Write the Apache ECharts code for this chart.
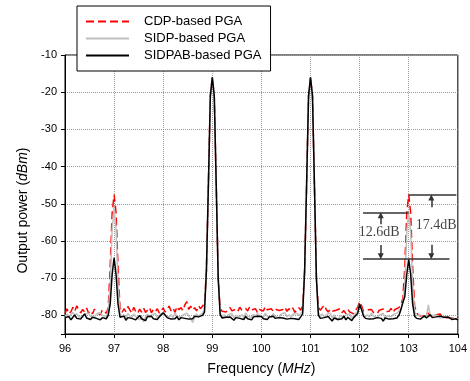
<!DOCTYPE html>
<html><head><meta charset="utf-8">
<script src="https://cdn.jsdelivr.net/npm/echarts@6/dist/echarts.min.js"></script>
<style>html,body{margin:0;padding:0;background:#fff}#c{width:470px;height:381px}</style>
</head><body><div id="c"></div>
<script>
// Frequency grid (MHz): start and step of the sampled spectrum
const freqStart = 96, freqStep = 0.04, pointCount = 201;
const xTicks = [96, 97, 98, 99, 100, 101, 102, 103, 104];
const yTicks = [-80, -70, -60, -50, -40, -30, -20, -10];

// CDP-based PGA (red dashed)
const cdp = [
 -79.5,-78.2,-79.6,-79.0,-77.8,-78.9,-77.4,-78.6,-79.3,-78.4,-79.1,-78.0,-79.4,-78.7,-79.6,-78.3,-79.2,-78.9,-79.8,-78.5,-79.0,-79.4,-78.0,-67,-52.5,
 -47.5,-52.5,-67,-78,-79.3,-78.2,-79.0,-77.6,-78.5,-79.4,-77.8,-78.9,-79.5,-78.3,-79.1,-78.0,-79.2,-78.6,-77.9,-79.3,-78.4,-79.0,-78.2,-79.4,-78.7,
 -78.0,-79.1,-78.3,-77.5,-78.8,-78.0,-79.2,-77.6,-78.5,-77.9,-78.7,-77.2,-76.3,-78.4,-77.5,-78.6,-77.9,-78.8,-77.4,-78.2,-77.8,-76.8,-68,-45,-21,
 -16,-21,-45,-70,-78.2,-78.9,-78.4,-79.1,-78.6,-77.9,-78.8,-79.2,-78.3,-78.9,-77.8,-78.6,-79.0,-78.1,-78.8,-77.7,-78.5,-78.9,-78.2,-79.3,-78.4,
 -78.0,-78.8,-77.6,-78.5,-79.0,-78.2,-78.9,-78.3,-77.9,-78.7,-79.1,-78.4,-77.8,-78.9,-78.2,-78.8,-78.0,-79.2,-78.5,-77.9,-78.6,-77.5,-68,-45,-21,
 -16,-21,-45,-70,-77.8,-78.6,-79.0,-77.2,-78.4,-79.1,-78.3,-78.9,-79.4,-78.6,-79.0,-78.2,-79.3,-78.7,-79.5,-78.4,-79.1,-78.8,-79.6,-78.5,-77.9,
 -76.3,-77.4,-78.9,-79.3,-78.5,-79.0,-78.4,-79.2,-78.7,-79.5,-78.6,-79.1,-78.3,-79.0,-78.5,-78.9,-78.1,-79.2,-78.4,-78.8,-77.9,-77.0,-75.5,-67,-52.5,
 -47.5,-52.5,-67,-77.5,-79.2,-80.0,-79.5,-80.3,-79.6,-80.1,-79.4,-80.2,-79.7,-80.4,-79.8,-80.3,-79.6,-80.5,-80.0,-80.6,-80.1,-80.7,-80.2,-80.8,-80.4,-80.9
];
// SIDP-based PGA (light gray)
const sidp = [
 -80.2,-79.6,-80.5,-79.8,-79.2,-80.1,-79.5,-80.4,-79.9,-80.6,-79.7,-80.2,-79.4,-80.3,-79.8,-80.5,-79.6,-80.1,-79.3,-80.0,-79.5,-80.2,-79.0,-72,-57,
 -51,-57,-72,-79.5,-80.4,-79.8,-80.6,-79.5,-80.2,-80.8,-79.6,-80.3,-79.9,-81.2,-80.1,-81.8,-80.4,-79.7,-80.5,-79.9,-80.2,-79.5,-80.7,-80.0,-79.4,
 -79.2,-80.1,-79.6,-80.4,-79.8,-80.6,-79.3,-80.2,-79.7,-80.5,-79.9,-80.3,-79.4,-80.1,-80.8,-81.9,-80.5,-79.6,-80.2,-79.8,-79.4,-78.6,-68,-45,-21,
 -16,-21,-45,-70,-79.2,-80.4,-79.8,-80.6,-79.9,-80.3,-79.5,-80.7,-80.1,-79.6,-80.4,-79.8,-80.5,-79.3,-80.2,-79.9,-80.6,-79.7,-80.3,-79.5,-80.1,
 -79.8,-80.5,-79.4,-80.2,-79.7,-80.6,-79.5,-80.3,-79.9,-80.7,-79.6,-80.1,-79.3,-80.4,-79.8,-80.5,-79.7,-80.2,-79.4,-80.0,-79.6,-78.9,-68,-45,-21,
 -16,-21,-45,-70,-79.0,-80.2,-79.6,-80.5,-79.8,-80.3,-79.4,-80.6,-79.9,-80.2,-81.3,-80.1,-79.7,-80.5,-79.9,-80.4,-79.6,-80.8,-80.0,-79.5,-78.9,
 -77.0,-78.2,-79.6,-80.4,-79.8,-80.5,-79.3,-80.2,-79.7,-80.6,-79.9,-80.3,-79.5,-80.8,-80.1,-79.6,-80.4,-79.8,-80.2,-79.4,-79.0,-78.2,-76.8,-72,-57.5,
 -52.3,-58,-72,-79,-80.1,-80.6,-79.8,-80.4,-79.9,-80.5,-77.2,-80.2,-80.6,-79.9,-80.4,-80.1,-80.7,-80.2,-80.5,-80.0,-80.6,-80.3,-80.8,-80.4,-80.9,-81.0
];
// SIDPAB-based PGA (black)
const sidpab = [
 -80.6,-80.9,-80.3,-81.2,-80.5,-79.9,-80.8,-80.4,-81.0,-80.2,-79.6,-80.7,-80.3,-81.1,-80.5,-80.0,-80.8,-80.4,-81.2,-80.6,-80.1,-80.9,-80.0,-77,-69,
 -64.5,-69,-77,-80.5,-80.9,-80.2,-81.3,-80.6,-80.1,-80.8,-80.4,-81.2,-80.7,-80.0,-80.9,-80.5,-81.4,-80.3,-80.8,-80.2,-80.9,-80.5,-81.1,-80.4,-80.7,
 -79.3,-79.9,-80.6,-80.2,-81.0,-80.5,-80.9,-80.3,-81.2,-80.6,-80.1,-80.8,-80.4,-81.0,-80.5,-80.9,-80.2,-80.7,-80.4,-80.8,-80.0,-79.2,-68,-45,-21,
 -16,-21,-45,-70,-79.8,-80.7,-81.2,-80.5,-81.0,-80.4,-80.9,-81.3,-80.6,-80.2,-80.8,-80.5,-81.1,-80.3,-80.9,-80.6,-81.2,-80.4,-80.8,-80.2,-80.6,
 -80.3,-80.9,-80.5,-81.1,-80.4,-80.7,-80.2,-80.8,-81.3,-80.6,-80.1,-80.7,-80.4,-81.0,-80.5,-80.8,-80.3,-80.9,-80.6,-81.1,-80.4,-79.6,-68,-45,-21,
 -16,-21,-45,-70,-79.9,-80.8,-81.3,-80.6,-81.0,-80.3,-80.9,-81.5,-80.7,-80.4,-81.1,-80.6,-80.9,-80.2,-81.2,-80.5,-80.8,-81.4,-80.6,-80.1,-79.5,
 -77.0,-78.5,-80.2,-80.8,-80.4,-81.0,-80.5,-80.9,-81.3,-80.6,-80.2,-80.8,-81.5,-80.7,-80.3,-81.0,-80.6,-80.9,-80.4,-80.7,-80.0,-78.5,-76.5,-75,-69,
 -64.9,-69,-77,-80.2,-80.8,-80.3,-81.0,-80.5,-80.1,-80.7,-80.3,-79.8,-80.6,-80.9,-80.4,-80.8,-80.2,-80.7,-80.5,-81.0,-80.4,-80.8,-81.1,-80.6,-80.9,-81.2
];
const seriesNames = ['CDP-based PGA', 'SIDP-based PGA', 'SIDPAB-based PGA'];

// Annotation: level lines [xFrom, xTo, level], arrows [x, yFrom, yTo], labels [x, y, text]
const annoLines = [[103.0, 103.97, -47.5], [102.07, 103.0, -52.3], [102.07, 103.83, -64.9]];
const annoArrows = [[102.43, -55.5, -53.1], [102.43, -61.1, -64.1], [103.46, -50.9, -48.3], [103.46, -61.0, -64.1]];
const annoLabels = [[102.40, -57.7, '12.6dB'], [103.56, -55.7, '17.4dB']];

const freqs = [];
for (let i = 0; i < pointCount; i++) freqs.push(+(freqStart + i * freqStep).toFixed(2));
const pairs = arr => arr.map((v, i) => [freqs[i], v]);

const chart = echarts.init(document.getElementById('c'), null, {renderer: 'canvas'});
const axisFont = {fontFamily: 'Liberation Sans, Arial, sans-serif', fontSize: 11, color: '#000'};
const markData = [];
annoLines.forEach(l => markData.push([{coord: [l[0], l[2]], symbol: 'none'}, {coord: [l[1], l[2]], symbol: 'none'}]));
annoArrows.forEach(a => markData.push([{coord: [a[0], a[1]], symbol: 'none'}, {coord: [a[0], a[2]], symbol: 'triangle', symbolSize: 6}]));

chart.setOption({
  animation: false,
  backgroundColor: '#fff',
  grid: {left: 65, right: 9, top: 55, bottom: 47, show: true, borderColor: '#000', borderWidth: 1, backgroundColor: 'transparent'},
  legend: {
    data: seriesNames, orient: 'vertical', left: 77, top: 6,
    padding: [9, 9, 9, 8], itemGap: 4, itemWidth: 43, itemHeight: 12,
    backgroundColor: '#fff', borderColor: '#000', borderWidth: 1, borderRadius: 0,
    itemStyle: {opacity: 0},
    textStyle: {fontFamily: 'Liberation Sans, Arial, sans-serif', fontSize: 13, color: '#000', padding: [0, 0, 0, 10]},
    selectedMode: false
  },
  xAxis: {
    type: 'value', min: xTicks[0], max: xTicks[xTicks.length - 1], interval: 1,
    name: 'Frequency ({i|MHz})', nameLocation: 'middle', nameGap: 28,
    nameTextStyle: {fontFamily: 'Liberation Sans, Arial, sans-serif', fontSize: 14, color: '#000',
      rich: {i: {fontFamily: 'Liberation Sans, Arial, sans-serif', fontSize: 14, fontStyle: 'italic', color: '#000'}}},
    axisLine: {lineStyle: {color: '#000', width: 1}},
    axisTick: {show: true, inside: false, length: 4, lineStyle: {color: '#000'}},
    axisLabel: Object.assign({margin: 9, formatter: v => xTicks.includes(v) ? String(v) : ''}, axisFont),
    splitLine: {show: true, lineStyle: {type: 'dotted', color: '#9a9a9a', width: 1}}
  },
  yAxis: {
    type: 'value', min: -85, max: yTicks[yTicks.length - 1], minInterval: 10, maxInterval: 10, splitNumber: 8,
    name: 'Output power ({i|dBm})', nameLocation: 'middle', nameGap: 31,
    nameTextStyle: {fontFamily: 'Liberation Sans, Arial, sans-serif', fontSize: 14, color: '#000', padding: [0, 32, 0, 0],
      rich: {i: {fontFamily: 'Liberation Sans, Arial, sans-serif', fontSize: 14, fontStyle: 'italic', color: '#000'}}},
    axisLine: {show: true, lineStyle: {color: '#000', width: 1}},
    axisTick: {show: true, inside: false, length: 4, lineStyle: {color: '#000'}},
    axisLabel: Object.assign({margin: 8, formatter: v => yTicks.includes(v) ? String(v) : ''}, axisFont),
    splitLine: {show: true, lineStyle: {type: 'dotted', color: '#9a9a9a', width: 1}}
  },
  series: [
    {name: seriesNames[0], type: 'line', data: pairs(cdp), symbol: 'none', z: 2,
     lineStyle: {color: '#ff0000', width: 1.5, type: [8, 4]}, itemStyle: {color: '#ff0000'}},
    {name: seriesNames[1], type: 'line', data: pairs(sidp), symbol: 'none', z: 3,
     lineStyle: {color: '#c0c0c0', width: 1.5}, itemStyle: {color: '#c0c0c0'}},
    {name: seriesNames[2], type: 'line', data: pairs(sidpab), symbol: 'none', z: 4,
     lineStyle: {color: '#000000', width: 1.5}, itemStyle: {color: '#000000'}},
    {name: 'anno', type: 'line', data: [], z: 5, silent: true,
     markLine: {silent: true, animation: false, symbol: ['none', 'none'], label: {show: false},
       lineStyle: {color: '#333', width: 1.5, type: 'solid'}, itemStyle: {color: '#111'},
       emphasis: {disabled: true}, data: markData}},
    {name: 'labels', type: 'scatter', data: annoLabels, symbol: 'circle', symbolSize: 1, z: 6, silent: true,
     itemStyle: {color: 'transparent'},
     label: {show: true, position: 'inside', formatter: p => p.value[2],
       fontFamily: 'Liberation Serif, Times New Roman, serif', fontSize: 14, color: '#111'}}
  ]
});
</script></body></html>
